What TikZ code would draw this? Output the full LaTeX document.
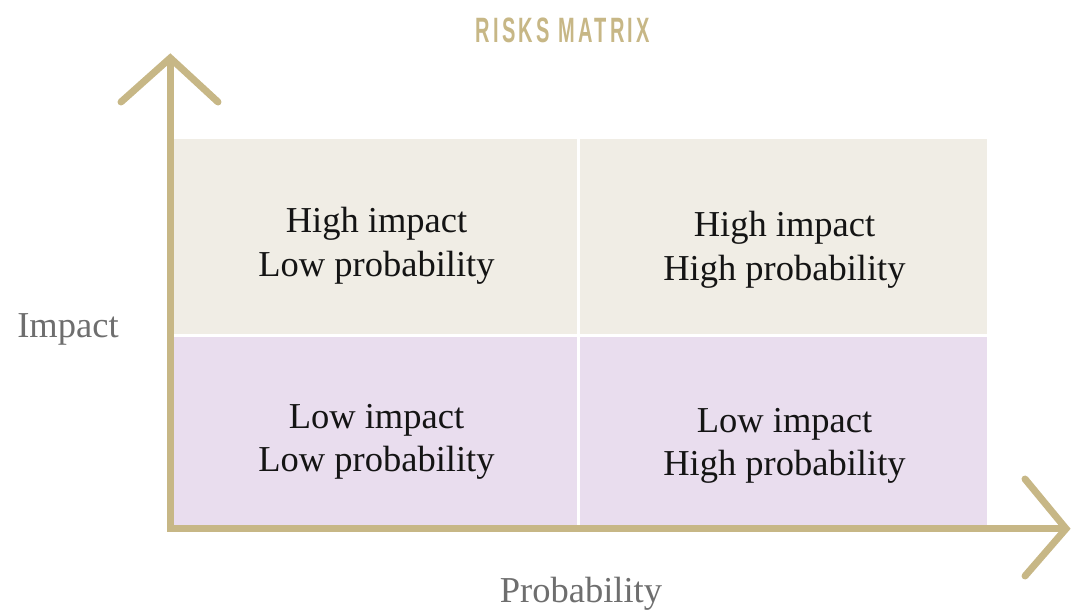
\documentclass[tikz,border=0pt]{standalone}
\usepackage{fontspec}
\usepackage{graphicx}
\setmainfont{Liberation Serif}
\newfontfamily\titlefont{Liberation Sans}[LetterSpace=16]
\definecolor{axisgold}{HTML}{C7B786}
\definecolor{cellsand}{HTML}{F0EDE5}
\definecolor{celllilac}{HTML}{E9DDEE}
\definecolor{labelgray}{HTML}{6E6E6E}
\definecolor{celltext}{HTML}{141414}
\tikzset{
  celllabel/.style={align=center, inner sep=0pt, text=celltext,
    font=\fontsize{36.5}{43.5}\selectfont},
  axislabel/.style={anchor=base, inner sep=0pt, text=labelgray,
    font=\fontsize{36.5}{40}\selectfont},
  axisline/.style={draw=axisgold, line width=7pt},
  arrowhead/.style={draw=axisgold, line width=7pt, line cap=round, line join=miter},
}
\begin{document}
\begin{tikzpicture}[x=1pt, y=-1pt]
\useasboundingbox (0,0) rectangle (1072,611);
% quadrant fills
\fill[cellsand]  (174,139)   rectangle (577.3,334);
\fill[cellsand]  (580,139)   rectangle (987,334);
\fill[celllilac] (174,336.7) rectangle (577.3,525);
\fill[celllilac] (580,336.7) rectangle (987,525);
% quadrant texts
\node[celllabel] (hl) at (376.5,246) {High impact\\Low probability};
\node[celllabel] (hh) at (784.5,250) {High impact\\High probability};
\node[celllabel] (ll) at (376.5,442) {Low impact\\Low probability};
\node[celllabel] (lh) at (784.5,446) {Low impact\\High probability};
% axes
\draw[axisline, line join=miter] (170.3,59) -- (170.3,528.7) -- (1066,528.7);
\draw[arrowhead] (121,102) -- (170.3,58) -- (218,102);
\draw[arrowhead] (1025,479) -- (1066,528.7) -- (1025,576);
% axis names
\node[axislabel] (imp) at (68,337) {Impact};
\node[axislabel] (prob) at (581,602) {Probability};
% heading
\node[inner sep=0pt, text=axisgold] (title) at (563,30)
  {\resizebox{174pt}{24.6pt}{\titlefont\bfseries RISKS MATRIX}};
\end{tikzpicture}
\end{document}
